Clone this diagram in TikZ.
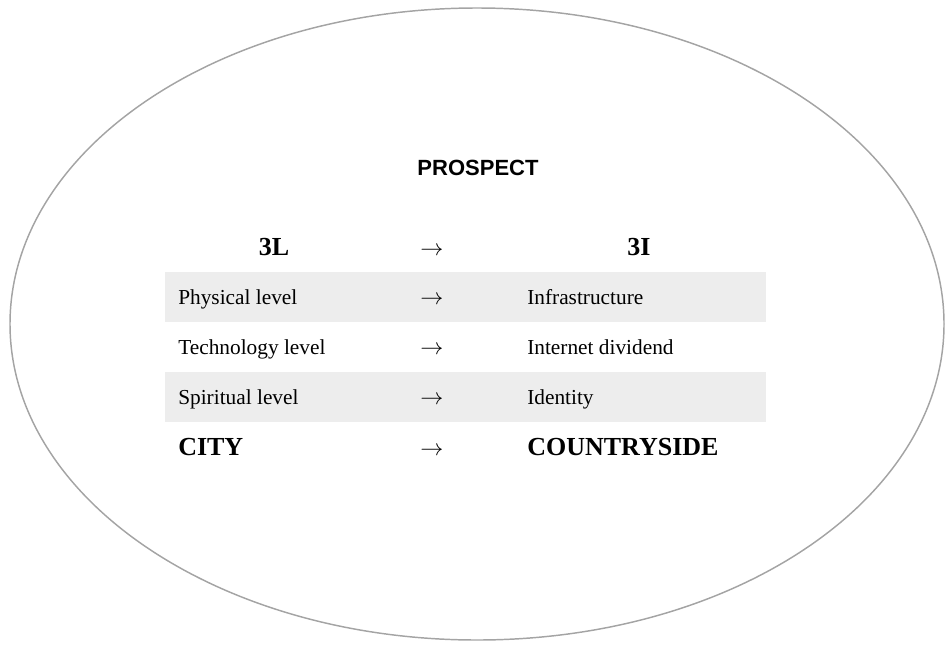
\documentclass[tikz,border=0pt]{standalone}
\usepackage{fontspec}
\setmainfont{Liberation Serif}
\newfontfamily\headsans{Liberation Sans}
\definecolor{rimgray}{HTML}{A4A4A4}
\definecolor{bandgray}{HTML}{EDEDED}
\begin{document}
\begin{tikzpicture}[x=0.75pt,y=-0.75pt,
  band/.style={fill=bandgray,draw=none},
  rowtext/.style={anchor=base west,inner sep=0pt,font=\fontsize{16pt}{18pt}\selectfont},
  headtext/.style={anchor=base,inner sep=0pt,font=\fontsize{19.5pt}{22pt}\selectfont\bfseries},
  boldleft/.style={anchor=base west,inner sep=0pt,font=\fontsize{19.5pt}{22pt}\selectfont\bfseries},
  arrowtext/.style={anchor=base,inner sep=0pt,font=\fontsize{18pt}{20pt}\selectfont}]
\useasboundingbox (0,0) rectangle (948,646);
% outer ellipse
\draw[rimgray,line width=1.1pt] (477,324) ellipse [x radius=467, y radius=316];
% title
\node[anchor=base,inner sep=0pt,font=\headsans\fontsize{16.5pt}{19pt}\selectfont\bfseries] (title) at (478,175) {PROSPECT};
% shaded rows
\fill[band] (165,272) rectangle (766,322);
\fill[band] (165,372) rectangle (766,422);
% header row
\node[headtext] (h1) at (274,255.5) {3L};
\node[arrowtext] (ha) at (432,255) {$\rightarrow$};
\node[headtext] (h3) at (639,255.5) {3I};
% body rows
\node[rowtext] (r1a) at (178,304) {Physical level};
\node[arrowtext] (r1b) at (432,304) {$\rightarrow$};
\node[rowtext] (r1c) at (527,304) {Infrastructure};
\node[rowtext] (r2a) at (178,354) {Technology level};
\node[arrowtext] (r2b) at (432,354) {$\rightarrow$};
\node[rowtext] (r2c) at (527,354) {Internet dividend};
\node[rowtext] (r3a) at (178,404) {Spiritual level};
\node[arrowtext] (r3b) at (432,404) {$\rightarrow$};
\node[rowtext] (r3c) at (527,404) {Identity};
% closing row
\node[boldleft] (fa) at (178,455.5) {CITY};
\node[arrowtext] (fb) at (432,455) {$\rightarrow$};
\node[boldleft] (fc) at (527,455.5) {COUNTRYSIDE};
\end{tikzpicture}
\end{document}
